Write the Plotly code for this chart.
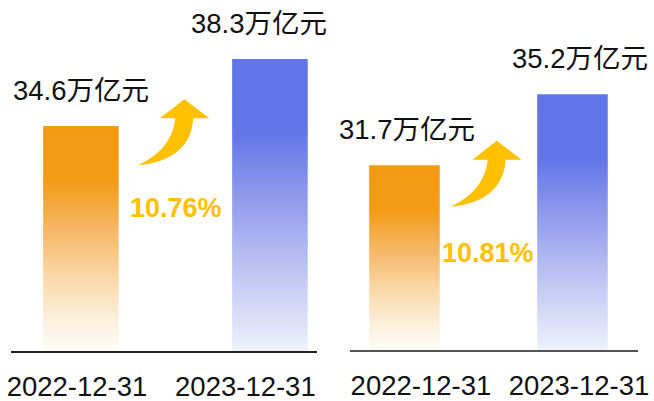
import plotly.graph_objects as go

# ---------------- data ----------------
categories = ["2022-12-31", "2023-12-31"]
panel_a_values = [34.6, 38.3]      # 万亿元
panel_b_values = [31.7, 35.2]      # 万亿元
growth_labels = ["10.76%", "10.81%"]
unit = "万亿元"

# ---------------- style ----------------
W, H = 654, 401
orange_scale = [[0.0, "#FFFDFA"], [0.14, "#FCEFDC"], [0.32, "#F9DAA9"],
                [0.54, "#F5B766"], [0.76, "#F39B14"], [1.0, "#F39A12"]]
blue_scale = [[0.0, "#EFF1FC"], [0.10, "#DDE1F8"], [0.33, "#B4BCF1"],
              [0.53, "#8F9AEC"], [0.75, "#6275E8"], [1.0, "#6174E8"]]
arrow_color = "#FFC000"
font_family = "Liberation Sans, Arial, Noto Sans CJK SC, sans-serif"

panels = [
    dict(values=panel_a_values, xaxis="x", yaxis="y",
         xdomain=[11 / W, 317 / W], ydomain=[1 - 351 / H, 1],
         xrange=[-0.370, 1.249], yrange=[22.17, 41.56], width=0.40,
         tickpos=[-0.021, 0.870], line="#222222",
         label_xshift=[0, -11], arrow_tip=(184.3, 99.3),
         pct_xy=(176, 208), growth=growth_labels[0]),
    dict(values=panel_b_values, xaxis="x2", yaxis="y2",
         xdomain=[350 / W, 638 / W], ydomain=[1 - 350 / H, 1],
         xrange=[-0.324, 1.390], yrange=[22.6, 39.84], width=0.42,
         tickpos=[0.098, 1.039], line="#555555",
         label_xshift=[3, 8], arrow_tip=(496.7, 140.7),
         pct_xy=(487.5, 253), growth=growth_labels[1]),
]

fig = go.Figure()
annotations = []
shapes = []

# relative arrow outline (pixels, relative to tip)
arrow_rel = [("M", 0, 0), ("L", 25, 19), ("L", 9, 19),
             ("Q", 6, 61, -46.3, 66), ("Q", -12, 50, -9, 19),
             ("L", -24.3, 19), ("Z",)]

def arrow_path(tip):
    tx, ty = tip
    parts = []
    for seg in arrow_rel:
        cmd = seg[0]
        if cmd == "Z":
            parts.append("Z")
            continue
        nums = seg[1:]
        pts = []
        for i in range(0, len(nums), 2):
            px = tx + nums[i]
            py = ty + nums[i + 1]
            pts.append(f"{px / W:.5f},{1 - py / H:.5f}")
        parts.append(cmd + " " + " ".join(pts))
    return " ".join(parts)

for pi, p in enumerate(panels):
    base = p["yrange"][0]
    for i, v in enumerate(p["values"]):
        w = p["width"]
        xs = [i - w / 2, i - w / 2, i + w / 2, i + w / 2, i - w / 2]
        ys = [base, v, v, base, base]
        fig.add_trace(go.Scatter(
            x=xs, y=ys, mode="lines", fill="toself",
            line=dict(width=0, color="rgba(0,0,0,0)"),
            fillgradient=dict(type="vertical",
                              colorscale=orange_scale if i == 0 else blue_scale),
            xaxis=p["xaxis"], yaxis=p["yaxis"], hoverinfo="skip",
            showlegend=False))
        annotations.append(dict(
            x=i, y=v, xref=p["xaxis"], yref=p["yaxis"],
            text=f"{v}{unit}", showarrow=False, yanchor="bottom",
            xanchor="center", yshift=18, xshift=p["label_xshift"][i],
            font=dict(size=27.5, color="#111111", family=font_family)))
    annotations.append(dict(
        x=p["pct_xy"][0] / W, y=1 - p["pct_xy"][1] / H, xref="paper", yref="paper",
        xanchor="center", yanchor="middle",
        text=f"<b>{p['growth']}</b>", showarrow=False,
        font=dict(size=27, color=arrow_color, family=font_family)))
    shapes.append(dict(type="path", path=arrow_path(p["arrow_tip"]),
                       xref="paper", yref="paper", fillcolor=arrow_color,
                       line=dict(width=0), layer="above"))

    ax_suffix = "" if pi == 0 else "2"
    fig.update_layout(**{
        f"xaxis{ax_suffix}": dict(
            domain=p["xdomain"], range=p["xrange"], anchor=p["yaxis"],
            showgrid=False, zeroline=False, showline=True, automargin=False,
            linecolor=p["line"], linewidth=2,
            tickvals=p["tickpos"], ticktext=categories,
            ticks="outside", ticklen=10, tickcolor="rgba(0,0,0,0)",
            tickfont=dict(size=27.5, color="#111111", family=font_family),
            fixedrange=True),
        f"yaxis{ax_suffix}": dict(
            domain=p["ydomain"], range=p["yrange"], anchor=p["xaxis"],
            visible=False, fixedrange=True, automargin=False),
    })

fig.update_layout(
    width=W, height=H, margin=dict(l=0, r=0, t=0, b=0, autoexpand=False),
    paper_bgcolor="white", plot_bgcolor="white",
    annotations=annotations, shapes=shapes, showlegend=False,
)

fig.write_html("out.html", config={"displayModeBar": False})
